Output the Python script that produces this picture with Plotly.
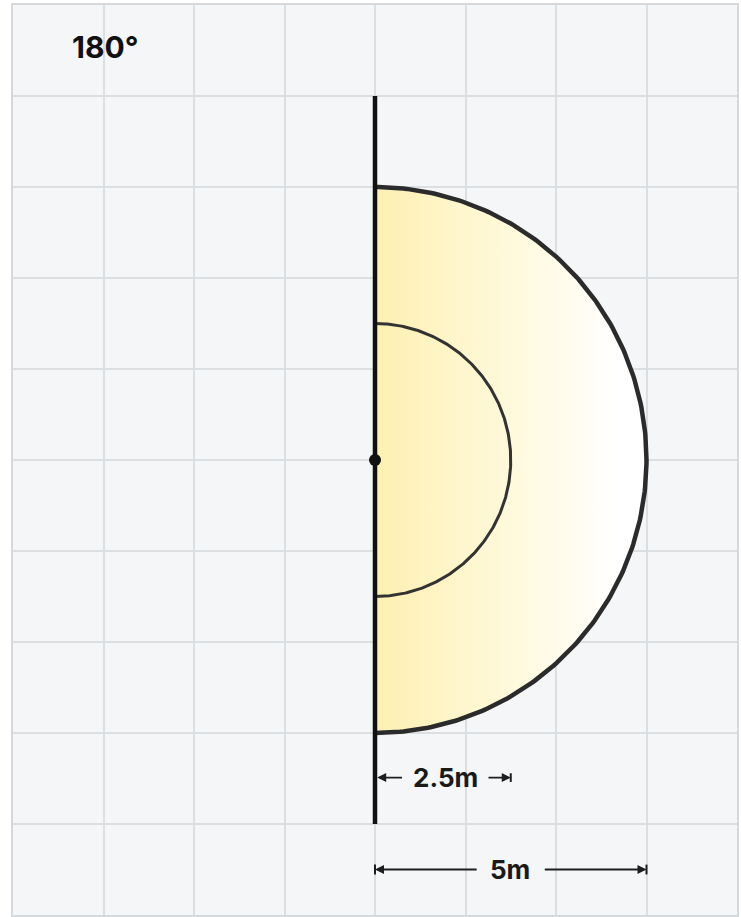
import numpy as np
import plotly.graph_objects as go

# ---- data ----
beam_angle_deg = [180]
angle_label = ["180°"]
radii_m = [2.5, 5.0]              # inner ring, outer ring (metres)
radius_labels = ["2.5m", "5m"]
wall_half_length_m = [20 / 3]     # mounting wall extends this far above/below fixture
grid_step_m = [5 / 3]             # one grid square = 1/3 of 5 m

# ---- geometry from data ----
step = grid_step_m[0]
half = np.radians(beam_angle_deg[0]) / 2
theta = np.linspace(-half, half, 241)

outer_r = radii_m[1]
inner_r = radii_m[0]

ox = outer_r * np.cos(theta)
oy = outer_r * np.sin(theta)
ix = inner_r * np.cos(theta)
iy = inner_r * np.sin(theta)

fig = go.Figure()

# gradient filled beam area
fig.add_trace(go.Scatter(
    x=np.concatenate([[0], ox, [0]]), y=np.concatenate([[-outer_r], oy, [outer_r]]),
    mode="lines", fill="toself",
    fillgradient=dict(type="horizontal",
                      colorscale=[[0, "#fdf0b2"], [0.55, "#fffae0"], [0.9, "#ffffff"], [1, "#ffffff"]]),
    line=dict(width=0, color="rgba(0,0,0,0)"), hoverinfo="skip", showlegend=False))

# outer arc
fig.add_trace(go.Scatter(x=ox, y=oy, mode="lines",
                         line=dict(color="#2b2b2b", width=4.5),
                         hoverinfo="skip", showlegend=False))
# inner arc
fig.add_trace(go.Scatter(x=ix, y=iy, mode="lines",
                         line=dict(color="#333333", width=3),
                         hoverinfo="skip", showlegend=False))
# wall
w = wall_half_length_m[0]
fig.add_trace(go.Scatter(x=[0, 0], y=[-w, w], mode="lines",
                         line=dict(color="#111111", width=4.5),
                         hoverinfo="skip", showlegend=False))
# fixture dot
fig.add_trace(go.Scatter(x=[0], y=[0], mode="markers",
                         marker=dict(color="#111111", size=12),
                         hoverinfo="skip", showlegend=False))

annotations = []
shapes = []
ac = "#1e1e1e"
font_family = "Inter, Liberation Sans, Arial"

# angle label
annotations.append(dict(x=-2.98 * step, y=4.54 * step, xref="x", yref="y",
                        text="<b>%s</b>" % angle_label[0], showarrow=False,
                        xanchor="center", yanchor="middle",
                        font=dict(family=font_family, size=30, color="#111111")))

# 2.5 m dimension
y1 = -3.49 * step
annotations.append(dict(x=inner_r * 0.516, y=y1, xref="x", yref="y",
                        text="<b>%s</b>" % radius_labels[0], showarrow=False,
                        xanchor="center", yanchor="middle",
                        font=dict(family=font_family, size=26, color="#1a1a1a")))
annotations.append(dict(x=0.04, y=y1, ax=inner_r * 0.21, ay=y1, xref="x", yref="y",
                        axref="x", ayref="y", text="", showarrow=True,
                        arrowhead=2, arrowsize=1, arrowwidth=1.8, arrowcolor=ac, standoff=0))
annotations.append(dict(x=inner_r, y=y1, ax=inner_r * 0.825, ay=y1, xref="x", yref="y",
                        axref="x", ayref="y", text="", showarrow=True,
                        arrowhead=2, arrowsize=1, arrowwidth=1.8, arrowcolor=ac, standoff=0))
shapes.append(dict(type="line", xref="x", yref="y", x0=inner_r, x1=inner_r,
                   y0=y1 - 0.08, y1=y1 + 0.08, line=dict(color=ac, width=2)))

# 5 m dimension
y2 = -4.5 * step
annotations.append(dict(x=outer_r * 0.497, y=y2, xref="x", yref="y",
                        text="<b>%s</b>" % radius_labels[1], showarrow=False,
                        xanchor="center", yanchor="middle",
                        font=dict(family=font_family, size=26, color="#1a1a1a")))
annotations.append(dict(x=0, y=y2, ax=outer_r * 0.38, ay=y2, xref="x", yref="y",
                        axref="x", ayref="y", text="", showarrow=True,
                        arrowhead=2, arrowsize=1, arrowwidth=1.8, arrowcolor=ac, standoff=0))
annotations.append(dict(x=outer_r, y=y2, ax=outer_r * 0.62, ay=y2, xref="x", yref="y",
                        axref="x", ayref="y", text="", showarrow=True,
                        arrowhead=2, arrowsize=1, arrowwidth=1.8, arrowcolor=ac, standoff=0))
for xb in [0, outer_r]:
    shapes.append(dict(type="line", xref="x", yref="y", x0=xb, x1=xb,
                       y0=y2 - 0.09, y1=y2 + 0.09, line=dict(color=ac, width=2)))

grid_color = "#dcdfe2"
fig.update_layout(
    width=741, height=917,
    margin=dict(l=13, r=4, t=5, b=2),
    paper_bgcolor="#ffffff", plot_bgcolor="#f4f6f8",
    showlegend=False,
    annotations=annotations, shapes=shapes,
    xaxis=dict(range=[-4 * step, 4 * step], tick0=0, dtick=step, showticklabels=False,
               showgrid=True, gridcolor=grid_color, gridwidth=1.5, zeroline=False,
               showline=True, linecolor="#d6d9dc", linewidth=2, mirror=True, fixedrange=True),
    yaxis=dict(range=[-5 * step, 5 * step], tick0=0, dtick=step, showticklabels=False,
               showgrid=True, gridcolor=grid_color, gridwidth=1.5, zeroline=False,
               showline=True, linecolor="#d6d9dc", linewidth=2, mirror=True, fixedrange=True),
)

fig.write_html("out.html", config={"displayModeBar": False},
               post_script="document.body.style.margin='0';")
